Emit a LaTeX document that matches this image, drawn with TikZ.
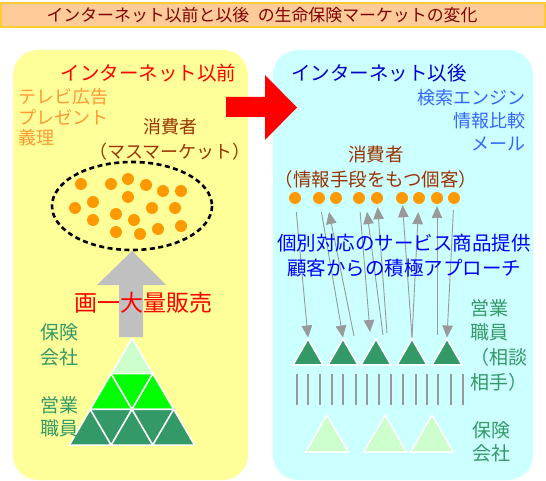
\documentclass[tikz,border=0pt]{standalone}
\usepackage{fontspec}
\setmainfont{Noto Sans CJK JP}
\usetikzlibrary{arrows.meta,shapes.geometric}

\definecolor{titlebg}{HTML}{FFCC99}
\definecolor{titleline}{HTML}{FFCC33}
\definecolor{titletext}{HTML}{800000}
\definecolor{beforebg}{HTML}{FFFF99}
\definecolor{afterbg}{HTML}{CCFFFF}
\definecolor{dotorange}{HTML}{FF9900}
\definecolor{mediaorange}{HTML}{FF9933}
\definecolor{consumer}{HTML}{993300}
\definecolor{deepblue}{HTML}{0000CC}
\definecolor{pureblue}{HTML}{0000FF}
\definecolor{toolblue}{HTML}{3366FF}
\definecolor{staffgreen}{HTML}{339966}
\definecolor{palegreen}{HTML}{CCFFCC}
\definecolor{brightgreen}{HTML}{00FF00}
\definecolor{linkgray}{HTML}{999999}
\definecolor{salegray}{HTML}{C0C0C0}

\tikzset{
  txt/.style={inner sep=0pt},
  dot/.style={circle, fill=dotorange, minimum size=12pt, inner sep=0pt},
  staff/.style={regular polygon, regular polygon sides=3, fill=staffgreen,
    draw=white, line width=1.5pt, minimum size=34.6pt, inner sep=0pt},
  company/.style={staff, fill=palegreen, minimum size=49.7pt},
  pyr/.style={draw=white, line width=1.5pt, line join=round},
  link/.style={draw=linkgray, line width=0.9pt, -{Triangle[length=12pt,width=10.5pt]}},
  bar/.style={draw=linkgray, line width=2pt},
  mass/.style={draw=black, line width=2.6pt, dash pattern=on 5pt off 3.5pt}
}

\begin{document}
\begin{tikzpicture}[x=1pt, y=-1pt]
  \useasboundingbox (0,0) rectangle (546,481);

  % title bar
  \filldraw[fill=titlebg, draw=titleline, line width=1.5pt] (1,3) rectangle (545,27);
  \node (title) [txt, text=titletext, font=\fontsize{16.9}{18}\selectfont] at (262,15)
    {インターネット以前と以後\hspace{0.5em}の生命保険マーケットの変化};

  % the two panels
  \fill[beforebg, rounded corners=25pt] (13,50) rectangle (248,480);
  \fill[afterbg, rounded corners=25pt] (273,50) rectangle (533,480);

  % red arrow between panels
  \fill[red] (226,97) -- (265,97) -- (265,75) -- (297,107.5) -- (265,140)
    -- (265,117) -- (226,117) -- cycle;

  % ---- before the internet ----
  \node (before) [txt, text=red, font=\fontsize{19.5}{22}\selectfont] at (148.5,73) {インターネット以前};
  \node (media) [txt, text=mediaorange, font=\fontsize{18}{20.5}\selectfont, align=left, anchor=west]
    at (18,117.5) {テレビ広告\\プレゼント\\義理};
  \node (mass) [txt, text=consumer, font=\fontsize{18}{25}\selectfont, align=center]
    at (170,139.5) {消費者\\（マスマーケット）};

  \draw[mass] (132,206) ellipse [x radius=80, y radius=44];

  \node (m1) [dot] at (81,184) {};
  \node (m2) [dot] at (111,184) {};
  \node (m3) [dot] at (128,179) {};
  \node (m4) [dot] at (146,185) {};
  \node (m5) [dot] at (163,191) {};
  \node (m6) [dot] at (181,191) {};
  \node (m7) [dot] at (128,197) {};
  \node (m8) [dot] at (75,208) {};
  \node (m9) [dot] at (93,202) {};
  \node (m10) [dot] at (152,208) {};
  \node (m11) [dot] at (175,208) {};
  \node (m12) [dot] at (93,220) {};
  \node (m13) [dot] at (116,214) {};
  \node (m14) [dot] at (134,220) {};
  \node (m15) [dot] at (116,232) {};
  \node (m16) [dot] at (140,234) {};
  \node (m17) [dot] at (158,229) {};
  \node (m18) [dot] at (181,226) {};

  % gray arrow up to the market
  \fill[salegray] (119,337) -- (119,285) -- (97,285) -- (132,251) -- (166,285)
    -- (143,285) -- (143,337) -- cycle;
  \node (sale) [txt, text=red, font=\fontsize{23}{25}\selectfont] at (143,303) {画一大量販売};

  % pyramid
  \filldraw[pyr, fill=palegreen] (132,338) -- (111.2,373.7) -- (152.8,373.7) -- cycle;
  \filldraw[pyr, fill=brightgreen] (111.2,373.7) -- (90.3,409.3) -- (132,409.3) -- cycle;
  \filldraw[pyr, fill=brightgreen] (111.2,373.7) -- (152.8,373.7) -- (132,409.3) -- cycle;
  \filldraw[pyr, fill=brightgreen] (152.8,373.7) -- (132,409.3) -- (173.7,409.3) -- cycle;
  \filldraw[pyr, fill=staffgreen] (90.3,409.3) -- (69.5,445) -- (111.2,445) -- cycle;
  \filldraw[pyr, fill=staffgreen] (90.3,409.3) -- (132,409.3) -- (111.2,445) -- cycle;
  \filldraw[pyr, fill=staffgreen] (132,409.3) -- (111.2,445) -- (152.8,445) -- cycle;
  \filldraw[pyr, fill=staffgreen] (132,409.3) -- (173.7,409.3) -- (152.8,445) -- cycle;
  \filldraw[pyr, fill=staffgreen] (173.7,409.3) -- (152.8,445) -- (194.5,445) -- cycle;

  \node (lcompany) [txt, text=staffgreen, font=\fontsize{19}{25}\selectfont, align=left, anchor=west]
    at (40,344.5) {保険\\会社};
  \node (lstaff) [txt, text=staffgreen, font=\fontsize{19}{23}\selectfont, align=left, anchor=west]
    at (40,416.5) {営業\\職員};

  % ---- after the internet ----
  \node (after) [txt, text=deepblue, font=\fontsize{19.5}{22}\selectfont] at (379,73) {インターネット以後};
  \node (tools) [txt, text=toolblue, font=\fontsize{18}{23}\selectfont, align=right, anchor=east]
    at (526,120) {検索エンジン\\情報比較\\メール};
  \node (people) [txt, text=consumer, font=\fontsize{18.5}{25}\selectfont, align=center]
    at (376,167.5) {消費者\\（情報手段をもつ個客）};

  \node (r1) [dot] at (295,198) {};
  \node (r2) [dot] at (319,198) {};
  \node (r3) [dot] at (336,198) {};
  \node (r4) [dot] at (359,198) {};
  \node (r5) [dot] at (377,198) {};
  \node (r6) [dot] at (402,198) {};
  \node (r7) [dot] at (419,198) {};
  \node (r8) [dot] at (437,198) {};
  \node (r9) [dot] at (454,198) {};

  \node (t1) [staff] at (308,356.3) {};
  \node (t2) [staff] at (343,356.3) {};
  \node (t3) [staff] at (376,356.3) {};
  \node (t4) [staff] at (412,356.3) {};
  \node (t5) [staff] at (447,356.3) {};

  \coordinate (d3) at (370,332);
  \coordinate (u1) at (354,336);
  \coordinate (u1tip) at (329,212);
  \coordinate (u2) at (383,335);
  \coordinate (u2tip) at (367,212);
  \coordinate (u3) at (387,333);
  \coordinate (u6) at (437,335);

  % enquiries and offers
  \draw[link, shorten <=8pt] (r1) -- (t1.corner 1);
  \draw[link, shorten <=8pt] (r2) -- (t2.corner 1);
  \draw[link, shorten <=8pt] (r4) -- (d3);
  \draw[link, shorten <=6pt] (r9) -- (t5.corner 1);
  \draw[link] (u1) -- (u1tip);
  \draw[link] (u2) -- (u2tip);
  \draw[link, shorten >=3pt] (u3) -- (r5);
  \draw[link, shorten >=1pt] (t4.corner 1) -- (r6);
  \draw[link, shorten >=8pt] (t4.corner 1) -- (r7);
  \draw[link, shorten >=2pt] (u6) -- (r8);

  \node (service) [txt, text=pureblue, font=\fontsize{19.5}{25}\selectfont, align=center]
    at (404,255.5) {個別対応のサービス商品提供\\顧客からの積極アプローチ};

  % contact lines
  \draw[bar] (297,374) -- (297,405);
  \draw[bar] (308,374) -- (308,405);
  \draw[bar] (320,374) -- (320,405);
  \draw[bar] (332,374) -- (332,405);
  \draw[bar] (343,374) -- (343,405);
  \draw[bar] (356,374) -- (356,405);
  \draw[bar] (367,374) -- (367,405);
  \draw[bar] (379,374) -- (379,405);
  \draw[bar] (391,374) -- (391,405);
  \draw[bar] (403,374) -- (403,405);
  \draw[bar] (416,374) -- (416,405);
  \draw[bar] (427,374) -- (427,405);
  \draw[bar] (438,374) -- (438,405);
  \draw[bar] (451,374) -- (451,405);
  \draw[bar] (463,374) -- (463,405);

  \node (c1) [company] at (327,439.8) {};
  \node (c2) [company] at (385,439.8) {};
  \node (c3) [company] at (432,439.8) {};

  \node (rstaff) [txt, text=staffgreen, font=\fontsize{19}{24.7}\selectfont, align=left, anchor=west]
    at (470,345) {営業\\職員\\（相談\\相手）};
  \node (rcompany) [txt, text=staffgreen, font=\fontsize{19}{23}\selectfont, align=left, anchor=west]
    at (472,441.5) {保険\\会社};
\end{tikzpicture}
\end{document}
